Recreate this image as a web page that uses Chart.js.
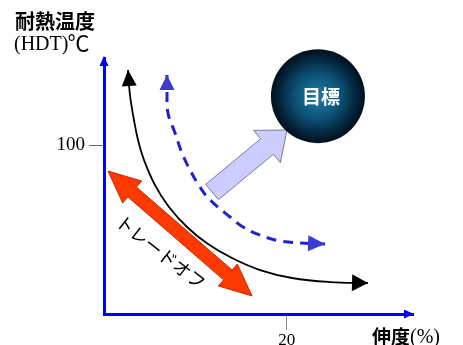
<!DOCTYPE html>
<html>
<head>
<meta charset="utf-8">
<script src="https://cdn.jsdelivr.net/npm/chart.js@4.4.1/dist/chart.umd.min.js"></script>
<style>
  html, body { margin: 0; padding: 0; background: #ffffff; }
  #c { display: block; }
</style>
</head>
<body>
<canvas id="c" width="463" height="345"></canvas>
<script>
// Tick values shown on each axis
const xTicks = [20];
const yTicks = [100];

// Current material: elongation (%) vs heat deflection temperature (°C)
const currentX = [2.63, 2.84, 3.28, 3.72, 4.38, 5.58, 7.11, 9.08, 11.38, 14.00, 17.07, 20.57, 24.73, 28.88];
const currentY = [144.4, 129.6, 114.8, 103.0, 91.1, 76.3, 63.3, 51.5, 41.4, 33.1, 26.0, 21.3, 18.9, 18.3];

// Improved material curve
const improvedX = [6.89, 6.89, 7.00, 7.77, 8.53, 9.41, 10.50, 11.60, 13.79, 15.21, 17.07, 19.26, 21.44, 24.18];
const improvedY = [141.4, 130.8, 118.9, 107.1, 95.3, 85.2, 75.1, 67.5, 57.4, 51.5, 46.7, 43.2, 42.0, 41.4];

// Trade-off double arrow (end points)
const tradeoffX = [0.44, 16.19];
const tradeoffY = [84.6, 10.7];

// Shift toward the target (tail, head)
const shiftX = [11.82, 20.02];
const shiftY = [72.2, 108.9];

// Target position
const targetX = [23.4];
const targetY = [128.9];

// Anchor of the trade-off caption
const captionX = [6.23];
const captionY = [36.7];

const toPoints = (xs, ys) => xs.map((x, i) => ({ x: x, y: ys[i] }));

function triangle(ctx, tip, from, len, width, color) {
  const dx = tip.x - from.x, dy = tip.y - from.y;
  const d = Math.hypot(dx, dy);
  const ux = dx / d, uy = dy / d;
  const bx = tip.x - ux * len, by = tip.y - uy * len;
  ctx.beginPath();
  ctx.moveTo(tip.x, tip.y);
  ctx.lineTo(bx - uy * width / 2, by + ux * width / 2);
  ctx.lineTo(bx + uy * width / 2, by - ux * width / 2);
  ctx.closePath();
  ctx.fillStyle = color;
  ctx.fill();
}

function fatArrow(ctx, a, b, s) {
  const dx = b.x - a.x, dy = b.y - a.y, L = Math.hypot(dx, dy);
  const ux = dx / L, uy = dy / L, nx = -uy, ny = ux;
  const P = (u, t) => [a.x + ux * u + nx * t, a.y + uy * u + ny * t];
  const hb = s.body / 2, hh = s.headWidth / 2, hl = s.headLength;
  let pts;
  if (s.double) {
    pts = [P(0, 0), P(hl, hh), P(hl, hb), P(L - hl, hb), P(L - hl, hh), P(L, 0),
           P(L - hl, -hh), P(L - hl, -hb), P(hl, -hb), P(hl, -hh)];
  } else {
    pts = [P(0, hb), P(L - hl, hb), P(L - hl, hh), P(L, 0),
           P(L - hl, -hh), P(L - hl, -hb), P(0, -hb)];
  }
  ctx.beginPath();
  pts.forEach((p, i) => (i ? ctx.lineTo(p[0], p[1]) : ctx.moveTo(p[0], p[1])));
  ctx.closePath();
  ctx.fillStyle = s.fill;
  ctx.fill();
  ctx.lineWidth = 1;
  ctx.strokeStyle = s.stroke;
  ctx.stroke();
}

// Draws arrowheads, block arrows and in-mark text for datasets that ask for them
const decorations = {
  id: 'decorations',
  afterDatasetDraw(chart, args) {
    const ds = chart.data.datasets[args.index];
    const pts = args.meta.data;
    const ctx = chart.ctx;
    ctx.save();
    if (ds.arrowEnds) {
      const e = ds.arrowEnds;
      const n = pts.length;
      triangle(ctx, pts[0], pts[1], e.start.length, e.start.width, e.color);
      triangle(ctx, pts[n - 1], pts[n - 2], e.end.length, e.end.width, e.color);
    }
    if (ds.blockArrow) {
      fatArrow(ctx, pts[0], pts[1], ds.blockArrow);
    }
    if (ds.caption) {
      const c = ds.caption;
      const x = chart.scales.x.getPixelForValue(c.x);
      const y = chart.scales.y.getPixelForValue(c.y);
      ctx.translate(x, y);
      ctx.rotate(c.angle * Math.PI / 180);
      ctx.font = c.font;
      ctx.fillStyle = c.color;
      ctx.textAlign = 'center';
      ctx.textBaseline = 'middle';
      ctx.fillText(c.text, 0, 0);
    }
    if (ds.centerText) {
      const p = pts[0];
      ctx.font = ds.centerText.font;
      ctx.fillStyle = ds.centerText.color;
      ctx.textAlign = 'center';
      ctx.textBaseline = 'middle';
      ctx.fillText(ds.centerText.text, p.x + 3, p.y + 1);
    }
    ctx.restore();
  },
  afterDraw(chart) {
    const ctx = chart.ctx;
    const a = chart.chartArea;
    ctx.save();
    // axis arrowheads
    triangle(ctx, { x: a.left, y: a.top - 2 }, { x: a.left, y: a.top + 20 }, 10, 9, '#0000ff');
    triangle(ctx, { x: a.right + 1, y: a.bottom }, { x: a.right - 20, y: a.bottom }, 10, 9, '#0000ff');
    // axis titles
    ctx.fillStyle = '#000';
    ctx.textBaseline = 'middle';
    ctx.textAlign = 'left';
    ctx.font = 'bold 20px "Noto Sans CJK JP"';
    ctx.fillText('耐熱温度', 15, 21);
    ctx.font = '20px "Liberation Serif"';
    ctx.fillText('(HDT)', 14, 45);
    const w = ctx.measureText('(HDT)').width;
    ctx.font = '22px "Noto Sans CJK JP"';
    ctx.fillText('℃', 14 + w - 1, 43);
    ctx.font = 'bold 19px "Noto Sans CJK JP"';
    ctx.fillText('伸度', 372, 337);
    const w2 = ctx.measureText('伸度').width;
    ctx.font = '20px "Liberation Serif"';
    ctx.fillText('(%)', 372 + w2, 338);
    ctx.restore();
  }
};

const sphereFill = (c) => {
  const chart = c.chart;
  if (!chart.chartArea || !c.raw) return '#06304a';
  const x = chart.scales.x.getPixelForValue(c.raw.x);
  const y = chart.scales.y.getPixelForValue(c.raw.y);
  const g = chart.ctx.createRadialGradient(x, y, 2, x, y, 48);
  g.addColorStop(0, '#1f78a2');
  g.addColorStop(0.45, '#0c5276');
  g.addColorStop(0.8, '#03233a');
  g.addColorStop(1, '#000d1a');
  return g;
};

new Chart(document.getElementById('c'), {
  type: 'scatter',
  data: {
    datasets: [
      {
        data: toPoints(currentX, currentY),
        showLine: true,
        borderColor: '#000000',
        borderWidth: 1.8,
        tension: 0.4,
        pointRadius: 0,
        clip: false,
        order: 5,
        arrowEnds: { color: '#000000', start: { length: 16, width: 15 }, end: { length: 16, width: 17 } }
      },
      {
        data: toPoints(improvedX, improvedY),
        showLine: true,
        borderColor: '#2222cc',
        borderWidth: 3,
        borderDash: [10, 7],
        tension: 0.4,
        pointRadius: 0,
        clip: false,
        order: 4,
        arrowEnds: { color: '#3b3bd2', start: { length: 15, width: 15 }, end: { length: 17, width: 16 } }
      },
      {
        data: toPoints(tradeoffX, tradeoffY),
        showLine: false,
        pointRadius: 0,
        clip: false,
        order: 3,
        blockArrow: { double: true, body: 13, headWidth: 29, headLength: 32, fill: '#ff3a00', stroke: '#c42a00' },
        caption: { text: 'トレードオフ', x: captionX[0], y: captionY[0], angle: 38, font: '18px "Noto Sans CJK JP"', color: '#000' }
      },
      {
        data: toPoints(shiftX, shiftY),
        showLine: false,
        pointRadius: 0,
        clip: false,
        order: 2,
        blockArrow: { double: false, body: 20, headWidth: 42, headLength: 26, fill: '#ccccff', stroke: '#7a7a9a' }
      },
      {
        data: toPoints(targetX, targetY),
        showLine: false,
        pointRadius: 47,
        pointHoverRadius: 47,
        pointBorderWidth: 0,
        pointBackgroundColor: sphereFill,
        clip: false,
        order: 1,
        centerText: { text: '目標', font: 'bold 19px "Noto Sans CJK JP"', color: '#ffffff' }
      }
    ]
  },
  options: {
    responsive: false,
    devicePixelRatio: 1,
    animation: false,
    events: [],
    layout: { autoPadding: false, padding: { left: 0, top: 58, right: 50, bottom: 0 } },
    plugins: { legend: { display: false }, tooltip: { enabled: false }, title: { display: false } },
    scales: {
      x: {
        type: 'linear',
        min: 0,
        max: 33.8,
        afterBuildTicks: (s) => { s.ticks = xTicks.map(v => ({ value: v })); },
        afterFit: (s) => { s.height = 31; },
        ticks: { font: { family: 'Liberation Serif', size: 17 }, color: '#000', padding: 0, maxRotation: 0, autoSkip: false },
        grid: { drawOnChartArea: false, drawTicks: true, tickLength: 16, color: '#8a8a8a', lineWidth: 1 },
        border: { display: true, color: '#0000ff', width: 3 }
      },
      y: {
        type: 'linear',
        min: 0,
        max: 151.5,
        afterBuildTicks: (s) => { s.ticks = yTicks.map(v => ({ value: v })); },
        afterFit: (s) => { s.width = 104; },
        ticks: { font: { family: 'Liberation Serif', size: 19 }, color: '#000', padding: 4, autoSkip: false },
        grid: { drawOnChartArea: false, drawTicks: true, tickLength: 15, color: '#6a6a6a', lineWidth: 1 },
        border: { display: true, color: '#0000ff', width: 3 }
      }
    }
  },
  plugins: [decorations]
});
</script>
</body>
</html>
